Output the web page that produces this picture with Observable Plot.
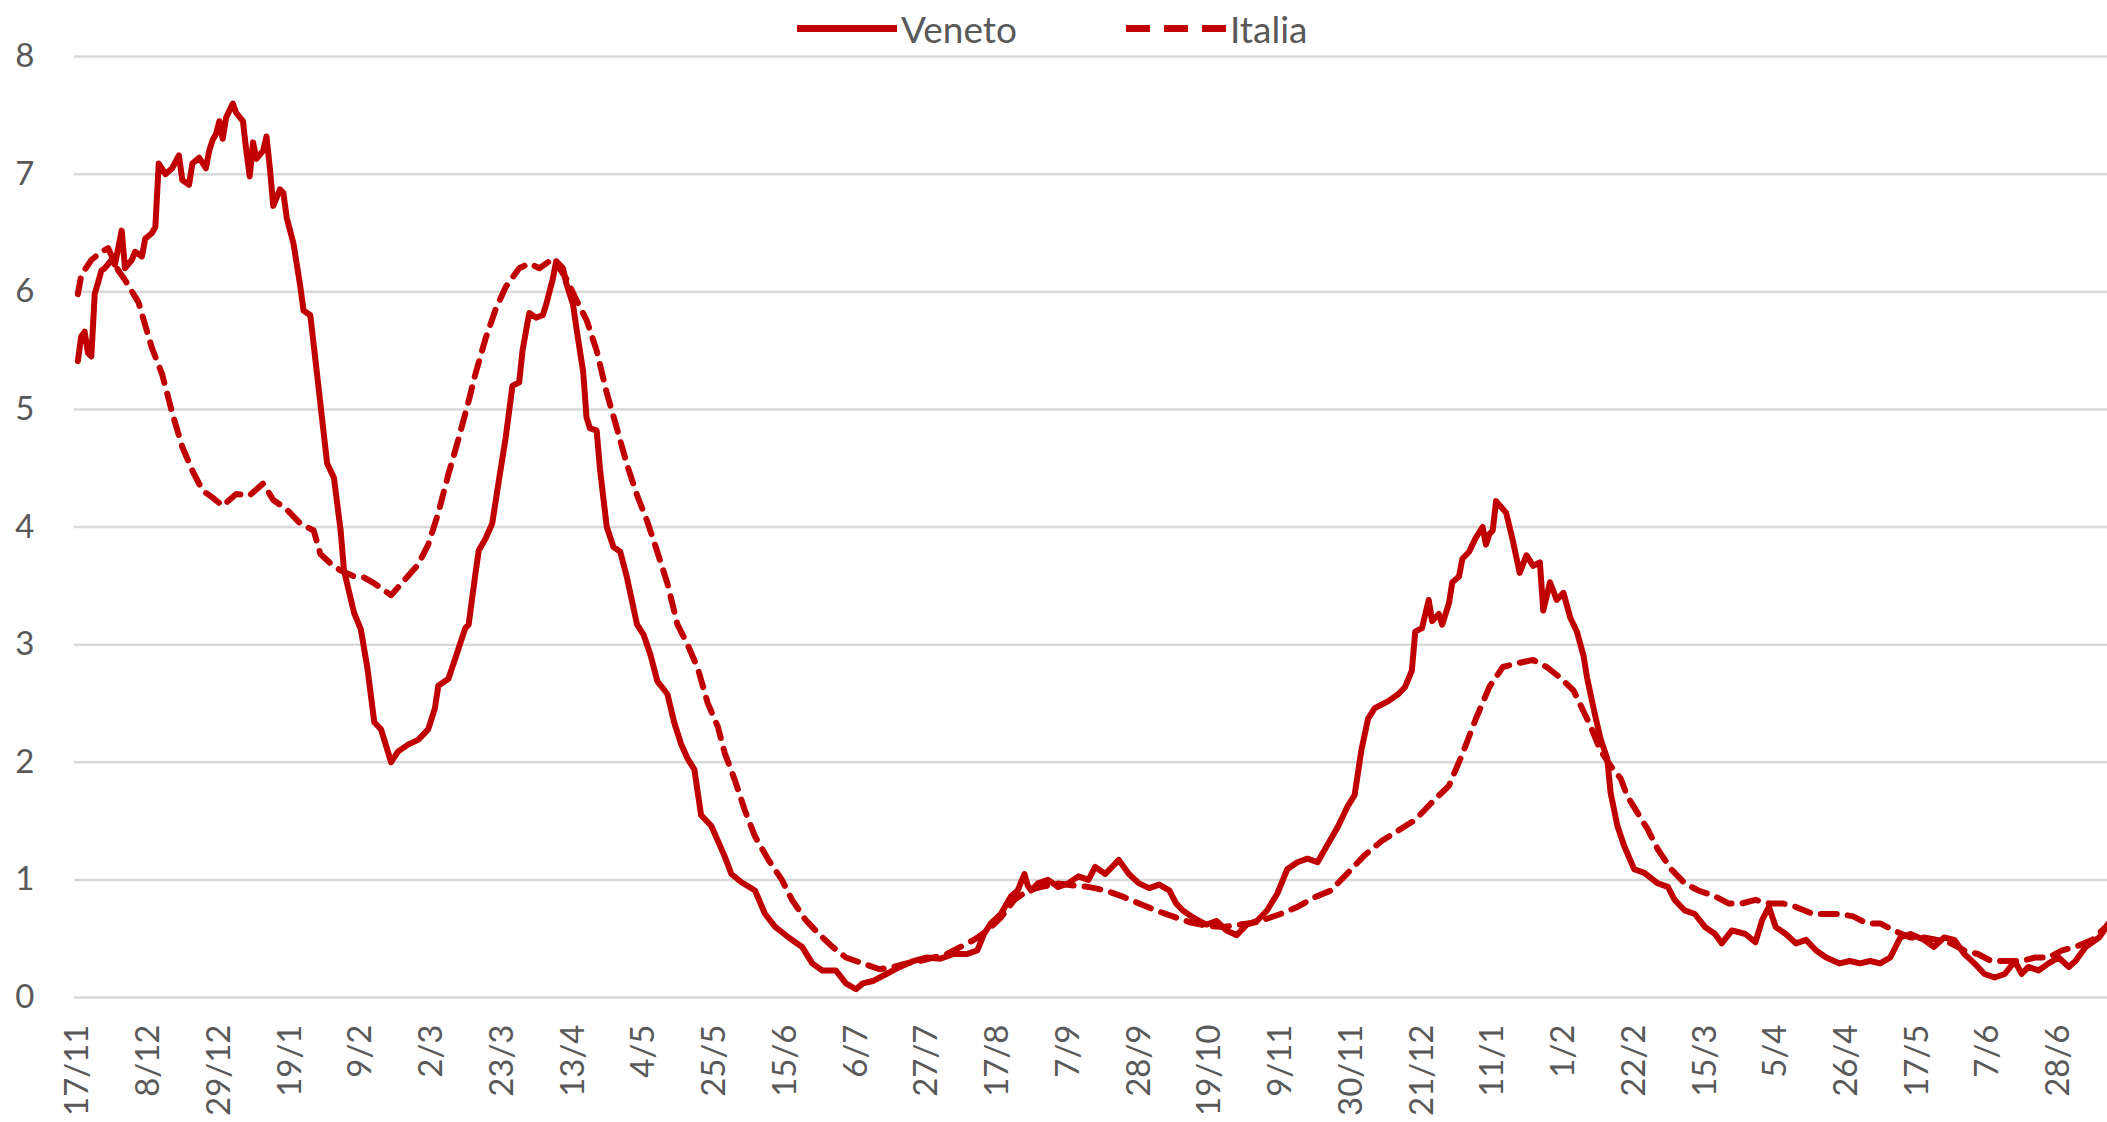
<!DOCTYPE html>
<html>
<head>
<meta charset="utf-8">
<script src="https://cdn.jsdelivr.net/npm/d3@7"></script>
<script src="https://cdn.jsdelivr.net/npm/@observablehq/plot@0.6"></script>
<style>
  html, body { margin: 0; padding: 0; background: #fff; }
  #wrap { width: 2107px; font-family: Lato, "Open Sans", sans-serif; }
  #legend { position: relative; width: 2107px; height: 50px; }
  .item { position: absolute; top: 28px; transform: translateY(-50%); display: flex; align-items: center; }
  .item span { font-size: 37px; color: #595959; margin-left: 4px; line-height: 1; }
</style>
</head>
<body>
<div id="wrap">
  <div id="legend">
    <div class="item" style="left:797px">
      <svg width="100" height="12"><line x1="0" y1="6" x2="100" y2="6" stroke="#C00000" stroke-width="7"/></svg>
      <span>Veneto</span>
    </div>
    <div class="item" style="left:1126px">
      <svg width="100" height="12"><line x1="0" y1="6" x2="100" y2="6" stroke="#C00000" stroke-width="7" stroke-dasharray="24,14"/></svg>
      <span>Italia</span>
    </div>
  </div>
  <div id="chart"></div>
</div>
<script>
// day offsets from 17/11/2020, value
const startDate = "2020-11-17";
const tickLabels = ["17/11","8/12","29/12","19/1","9/2","2/3","23/3","13/4","4/5","25/5","15/6","6/7","27/7","17/8","7/9","28/9","19/10","9/11","30/11","21/12","11/1","1/2","22/2","15/3","5/4","26/4","17/5","7/6","28/6"];
const tickStepDays = 21;
const yTicks = [0,1,2,3,4,5,6,7,8];

const veneto = [[0,5.41],[1,5.62],[2,5.66],[3,5.48],[4,5.45],[5,5.98],[7,6.18],[8,6.2],[10,6.27],[11,6.23],[13,6.52],[14,6.2],[16,6.27],[17,6.34],[19,6.3],[20,6.45],[22,6.5],[23,6.55],[24,7.09],[26,7.0],[28,7.05],[30,7.16],[31,6.95],[33,6.91],[34,7.09],[36,7.14],[38,7.05],[39,7.2],[40,7.29],[41,7.34],[42,7.45],[43,7.3],[44,7.48],[46,7.6],[47,7.52],[49,7.45],[50,7.2],[51,6.98],[52,7.27],[53,7.13],[55,7.2],[56,7.32],[57,7.05],[58,6.73],[60,6.87],[61,6.84],[62,6.63],[64,6.41],[66,6.05],[67,5.84],[69,5.8],[71,5.3],[74,4.54],[76,4.42],[78,3.97],[79,3.63],[82,3.27],[84,3.13],[86,2.79],[88,2.34],[90,2.28],[93,2.0],[95,2.09],[98,2.15],[101,2.19],[104,2.28],[106,2.46],[107,2.65],[110,2.71],[112,2.88],[115,3.14],[116,3.17],[118,3.6],[119,3.8],[121,3.9],[123,4.03],[125,4.4],[127,4.76],[129,5.2],[131,5.23],[132,5.5],[134,5.82],[136,5.78],[138,5.8],[139,5.89],[141,6.11],[142,6.26],[144,6.2],[145,6.07],[147,5.89],[148,5.69],[150,5.32],[151,4.93],[152,4.84],[154,4.82],[155,4.49],[157,4.0],[159,3.83],[161,3.79],[163,3.57],[166,3.17],[168,3.08],[170,2.91],[172,2.69],[175,2.58],[177,2.34],[179,2.16],[181,2.03],[183,1.94],[185,1.55],[188,1.46],[190,1.33],[192,1.2],[194,1.05],[197,0.98],[201,0.91],[204,0.71],[207,0.6],[211,0.51],[215,0.43],[218,0.29],[221,0.23],[225,0.23],[228,0.12],[231,0.07],[233,0.12],[236,0.14],[240,0.2],[244,0.26],[248,0.31],[252,0.34],[256,0.33],[260,0.37],[264,0.37],[267,0.4],[269,0.54],[271,0.63],[274,0.71],[277,0.86],[279,0.91],[281,1.05],[282,0.95],[283,0.91],[285,0.97],[288,1.0],[291,0.94],[294,0.97],[297,1.03],[300,1.0],[302,1.11],[305,1.05],[309,1.17],[312,1.05],[315,0.97],[318,0.93],[321,0.96],[324,0.91],[326,0.8],[328,0.74],[331,0.68],[333,0.65],[335,0.62],[338,0.65],[341,0.57],[344,0.53],[347,0.62],[350,0.65],[353,0.74],[356,0.88],[359,1.09],[362,1.15],[365,1.18],[368,1.15],[371,1.3],[374,1.45],[377,1.63],[379,1.72],[381,2.1],[383,2.37],[385,2.46],[389,2.52],[392,2.58],[394,2.64],[396,2.78],[397,3.11],[399,3.14],[401,3.38],[402,3.2],[404,3.26],[405,3.17],[407,3.35],[408,3.53],[410,3.58],[411,3.73],[413,3.79],[415,3.91],[417,4.0],[418,3.85],[419,3.94],[420,3.97],[421,4.22],[424,4.12],[426,3.88],[428,3.61],[430,3.76],[432,3.67],[434,3.7],[435,3.29],[437,3.53],[439,3.38],[441,3.44],[443,3.23],[445,3.11],[447,2.9],[448,2.72],[450,2.45],[452,2.2],[454,2.03],[455,1.74],[457,1.46],[459,1.29],[462,1.09],[465,1.06],[469,0.97],[472,0.94],[474,0.83],[477,0.74],[480,0.71],[483,0.6],[486,0.54],[488,0.46],[491,0.57],[495,0.54],[498,0.47],[500,0.66],[502,0.77],[504,0.6],[507,0.54],[510,0.46],[513,0.49],[516,0.4],[519,0.34],[523,0.29],[526,0.31],[529,0.29],[532,0.31],[535,0.29],[538,0.34],[541,0.51],[544,0.54],[548,0.49],[551,0.43],[554,0.51],[557,0.49],[560,0.37],[563,0.29],[566,0.2],[569,0.17],[572,0.2],[575,0.31],[577,0.2],[579,0.26],[582,0.23],[585,0.29],[588,0.34],[591,0.26],[593,0.31],[596,0.43],[600,0.51],[603,0.63],[606,0.74]];

const italia = [[0,5.98],[1,6.14],[4,6.27],[7,6.34],[9,6.37],[12,6.18],[14,6.1],[18,5.91],[22,5.52],[25,5.3],[28,4.97],[31,4.68],[34,4.48],[37,4.31],[40,4.25],[43,4.18],[47,4.28],[51,4.27],[55,4.37],[58,4.23],[62,4.15],[66,4.03],[70,3.97],[72,3.77],[75,3.69],[78,3.63],[82,3.58],[85,3.57],[88,3.52],[93,3.42],[97,3.55],[101,3.68],[104,3.85],[107,4.12],[110,4.45],[113,4.75],[116,5.07],[118,5.3],[121,5.6],[124,5.85],[127,6.04],[131,6.2],[134,6.24],[137,6.2],[140,6.26],[142,6.24],[145,6.11],[148,5.93],[151,5.76],[154,5.5],[157,5.14],[160,4.84],[163,4.53],[166,4.27],[169,4.05],[172,3.79],[175,3.52],[178,3.17],[181,3.0],[184,2.8],[187,2.5],[190,2.3],[192,2.08],[195,1.85],[198,1.59],[201,1.37],[205,1.17],[209,1.0],[212,0.83],[216,0.66],[220,0.54],[224,0.43],[228,0.34],[233,0.29],[238,0.24],[242,0.26],[246,0.29],[250,0.31],[254,0.34],[258,0.37],[262,0.43],[266,0.49],[270,0.57],[274,0.68],[278,0.83],[282,0.91],[286,0.94],[291,0.97],[296,0.95],[300,0.94],[305,0.91],[310,0.86],[315,0.8],[320,0.74],[325,0.69],[330,0.64],[335,0.61],[340,0.6],[345,0.62],[350,0.64],[354,0.68],[357,0.71],[362,0.77],[367,0.85],[372,0.91],[377,1.06],[382,1.21],[387,1.33],[392,1.42],[397,1.51],[402,1.66],[407,1.8],[411,2.07],[415,2.37],[419,2.64],[423,2.81],[427,2.84],[432,2.87],[436,2.81],[440,2.72],[444,2.61],[447,2.43],[449,2.31],[452,2.1],[455,1.97],[458,1.86],[460,1.71],[463,1.57],[466,1.43],[469,1.26],[473,1.09],[477,0.97],[481,0.91],[486,0.86],[490,0.8],[494,0.8],[498,0.83],[502,0.8],[506,0.8],[510,0.77],[515,0.71],[519,0.71],[523,0.71],[527,0.69],[531,0.63],[535,0.63],[539,0.57],[544,0.51],[548,0.51],[552,0.49],[556,0.46],[560,0.4],[564,0.37],[568,0.31],[573,0.31],[577,0.31],[581,0.34],[585,0.34],[589,0.4],[593,0.43],[598,0.49],[602,0.6],[605,0.71]];

const t0 = new Date(startDate + "T00:00:00Z").getTime();
const toDate = d => new Date(t0 + d * 864e5);
const rows = s => s.map(([d, v]) => ({date: toDate(d), value: v}));
const tickDates = tickLabels.map((_, i) => toDate(i * tickStepDays));
const labelOf = new Map(tickDates.map((d, i) => [+d, tickLabels[i]]));

const red = "#C00000";
const chart = Plot.plot({
  width: 2107,
  height: 1072,
  marginLeft: 74,
  marginRight: 0,
  marginTop: 6,
  marginBottom: 125,
  style: {fontFamily: "Lato, 'Open Sans', sans-serif", background: "#fff", overflow: "visible"},
  x: {type: "utc", domain: [toDate(-1), toDate(602.5)]},
  y: {domain: [0, 8]},
  marks: [
    Plot.gridY(yTicks, {stroke: "#d9d9d9", strokeOpacity: 1, strokeWidth: 2.5}),
    Plot.axisY(yTicks, {tickSize: 0, tickPadding: 40, fontSize: 33, fill: "#595959", label: null, tickFormat: d => String(d)}),
    Plot.axisX(tickDates, {tickSize: 0, tickPadding: 27, tickRotate: -90, fontSize: 33, fill: "#595959", label: null, tickFormat: d => labelOf.get(+d)}),
    Plot.line(rows(italia), {x: "date", y: "value", stroke: red, strokeWidth: 6, strokeDasharray: "16,11", clip: true}),
    Plot.line(rows(veneto), {x: "date", y: "value", stroke: red, strokeWidth: 6, strokeLinejoin: "round", clip: true})
  ]
});
document.getElementById("chart").appendChild(chart);
</script>
</body>
</html>
